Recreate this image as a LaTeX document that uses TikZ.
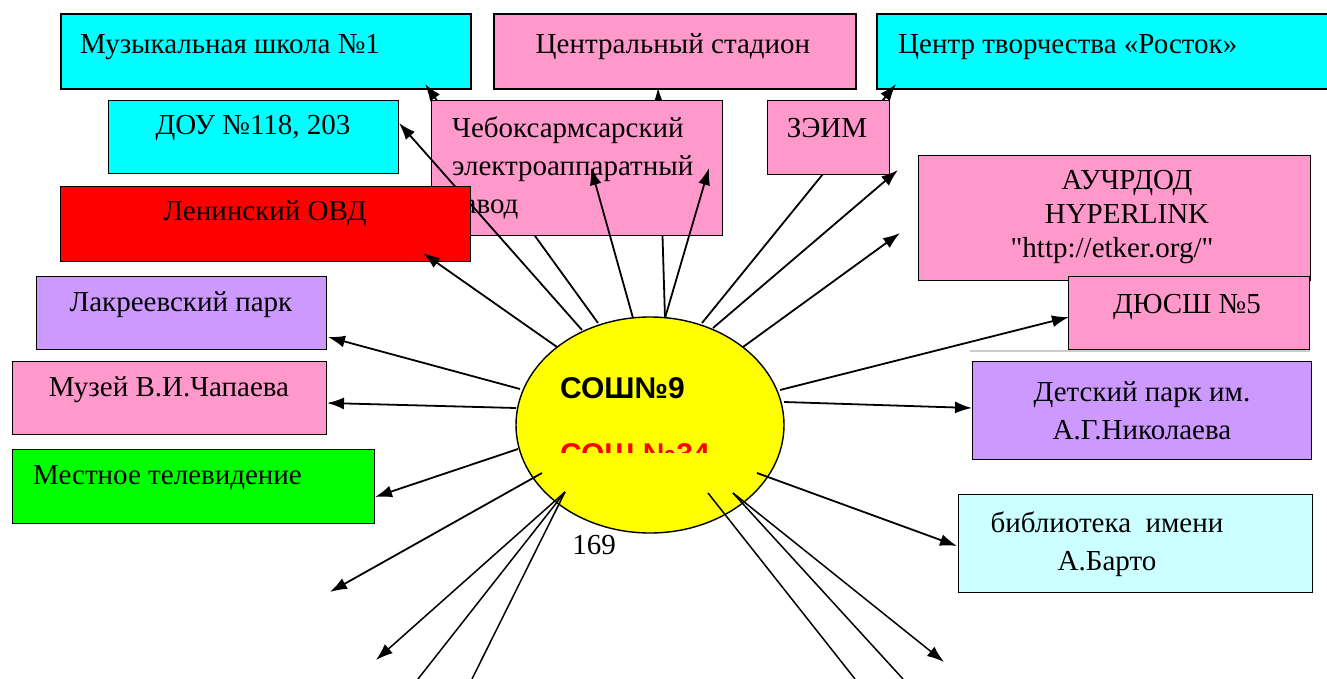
\documentclass[tikz,border=0pt]{standalone}
\usepackage{fontspec}
\setmainfont{Liberation Serif}
\newfontfamily\rawserif{Liberation Serif}
\newfontfamily\sansb{Liberation Sans}
\usetikzlibrary{arrows.meta,shapes.geometric}
\definecolor{cyanb}{RGB}{0,255,255}
\definecolor{pinkb}{RGB}{255,153,204}
\definecolor{redb}{RGB}{255,0,0}
\definecolor{lilac}{RGB}{204,153,255}
\definecolor{greenb}{RGB}{0,255,0}
\definecolor{lcyan}{RGB}{204,255,255}
\definecolor{yell}{RGB}{255,255,0}
\tikzset{
  box/.style={draw=black, line width=1.4pt, inner sep=0pt, anchor=north west},
  topbox/.style={box, line width=2pt},
  txt/.style={font=\fontsize{29}{38}\selectfont, inner sep=0pt},
  conn/.style={line width=1.8pt, -{Latex[length=17pt,width=12pt]}},
  thin/.style={line width=1.5pt},
  sch/.style={font=\sansb\bfseries\fontsize{30}{32}\selectfont, inner sep=0pt, anchor=west}
}
\begin{document}
\begin{tikzpicture}[x=1pt,y=-1pt]
\useasboundingbox (0,0) rectangle (1327,679);
% top row
\node[topbox, fill=cyanb, minimum width=410pt, minimum height=75pt] (mus) at (60,13) {};
\node[txt, anchor=west] (must) at (80,47) {Музыкальная школа №1};
\node[topbox, fill=pinkb, minimum width=362pt, minimum height=75pt] (stad) at (493,13) {};
\node[txt] (stadt) at (673,47) {Центральный стадион};
\node[topbox, fill=cyanb, minimum width=470pt, minimum height=75pt] (cent) at (876,13) {};
\node[txt, anchor=west] (centt) at (898,47) {Центр творчества «Росток»};
% ellipse
\node[draw=black, line width=1.4pt, fill=yell, ellipse, minimum width=268pt, minimum height=216pt, inner sep=0pt] (school) at (650,425) {};
% start coordinates
\coordinate (sMus) at (598,323);
\coordinate (sStad) at (665,318);
\coordinate (sCent) at (702,323);
\coordinate (sDou) at (582,330);
\coordinate (sLen) at (557,347);
\coordinate (sCheb) at (633,318);
\coordinate (sZeim) at (713,328);
\coordinate (sAuch) at (743,347);
\coordinate (sDus) at (780,390);
\coordinate (sDet) at (784,402);
\coordinate (sBib) at (757,473);
\coordinate (sLak) at (520,389);
\coordinate (sMuz) at (516,408);
\coordinate (sTv) at (518,449);
\coordinate (sDL) at (542,473);
\coordinate (sDL2) at (565,492);
\coordinate (sDR1) at (708,493);
\coordinate (sDR2) at (733,493);
% tips
\coordinate (tMus) at (425,84);
\coordinate (tStad) at (658,88);
\coordinate (tCent) at (896,84);
\coordinate (tDou) at (399,123);
\coordinate (tLen) at (423,253);
\coordinate (tCheb1) at (591,168);
\coordinate (tCheb2) at (709,168);
\coordinate (tZeim) at (898,170);
\coordinate (tAuch) at (900,233);
\coordinate (tDus) at (1069,317);
\coordinate (tDet) at (972,408);
\coordinate (tBib) at (957,546);
\coordinate (tLak) at (328,337);
\coordinate (tMuz) at (327,403);
\coordinate (tTv) at (375,497);
\coordinate (tDL1) at (330,592);
\coordinate (tDL2) at (376,660);
\coordinate (eDL3) at (418,679);
\coordinate (eDL4) at (472,679);
\coordinate (eDR1) at (855,679);
\coordinate (eDR2) at (903,679);
\coordinate (tDR3) at (944,662);
% arrows hidden behind second row
\draw[conn] (sMus) -- (tMus);
\draw[conn] (sStad) -- (tStad);
\draw[conn] (sCent) -- (tCent);
% second row
\node[box, fill=pinkb, minimum width=291pt, minimum height=135pt] (cheb) at (431,100) {};
\node[txt, anchor=west, align=left] (chebt) at (452,168) {Чебоксармсарский\\электроаппаратный\\завод};
\node[box, fill=pinkb, minimum width=122pt, minimum height=74pt] (zeim) at (767,100) {};
\node[txt] (zeimt) at (827,128) {ЗЭИМ};
\node[box, fill=cyanb, minimum width=290pt, minimum height=73pt] (dou) at (108,100) {};
\node[txt] (dout) at (253,128) {ДОУ №118, 203};
\draw[conn] (sDou) -- (tDou);
\node[box, fill=redb, minimum width=410pt, minimum height=75pt] (len) at (60,186) {};
\node[txt] (lent) at (265,214) {Ленинский ОВД};
\node[box, fill=pinkb, minimum width=392pt, minimum height=125pt] (auch) at (918,155) {};
\node[txt, align=center, font=\fontsize{29}{34}\selectfont] (aucht) at (1127,217) {АУЧРДОД\\HYPERLINK\\\hspace*{-30pt}{\rawserif "http://etker.org/"}};
\node[box, fill=pinkb, minimum width=241pt, minimum height=73pt] (dus) at (1068,276) {};
\node[txt] (dust) at (1187,307) {ДЮСШ №5};
\node[box, fill=lilac, minimum width=290pt, minimum height=73pt] (lak) at (36,276) {};
\node[txt] (lakt) at (181,305) {Лакреевский парк};
\node[box, fill=pinkb, minimum width=314pt, minimum height=73pt] (muz) at (12,361) {};
\node[txt] (muzt) at (169,390) {Музей В.И.Чапаева};
\draw[gray!40, line width=1.5pt] (970,351) -- (1310,351);
\node[box, fill=lilac, minimum width=339pt, minimum height=98pt] (det) at (972,361) {};
\node[txt, align=center] (dett) at (1142,411) {Детский парк им.\\А.Г.Николаева};
\node[box, fill=greenb, minimum width=362pt, minimum height=74pt] (tv) at (12,449) {};
\node[txt, anchor=west] (tvt) at (33,478) {Местное телевидение};
\node[box, fill=lcyan, minimum width=354pt, minimum height=98pt] (bib) at (958,494) {};
\node[txt, align=center] (bibt) at (1107,544) {библиотека\ \ имени\\А.Барто};
% school labels
\node[sch] (s9) at (560,388) {СОШ№9};
\begin{scope}
\clip (540,440) rectangle (730,452);
\node[sch, text=redb] (s34) at (560,454) {СОШ №34};
\end{scope}
\node[txt] (num) at (594,545) {169};
% remaining arrows
\draw[conn] (sLen) -- (tLen);
\draw[conn] (sCheb) -- (tCheb1);
\draw[conn] (sStad) -- (tCheb2);
\draw[conn] (sZeim) -- (tZeim);
\draw[conn] (sAuch) -- (tAuch);
\draw[conn] (sDus) -- (tDus);
\draw[conn] (sDet) -- (tDet);
\draw[conn] (sBib) -- (tBib);
\draw[conn] (sLak) -- (tLak);
\draw[conn] (sMuz) -- (tMuz);
\draw[conn] (sTv) -- (tTv);
\draw[conn] (sDL) -- (tDL1);
\draw[conn, line width=1.5pt] (sDL2) -- (tDL2);
\draw[thin] (sDL2) -- (eDL3);
\draw[thin] (sDL2) -- (eDL4);
\draw[thin] (sDR1) -- (eDR1);
\draw[thin] (sDR2) -- (eDR2);
\draw[conn, line width=1.5pt] (sDR2) -- (tDR3);
\end{tikzpicture}
\end{document}
